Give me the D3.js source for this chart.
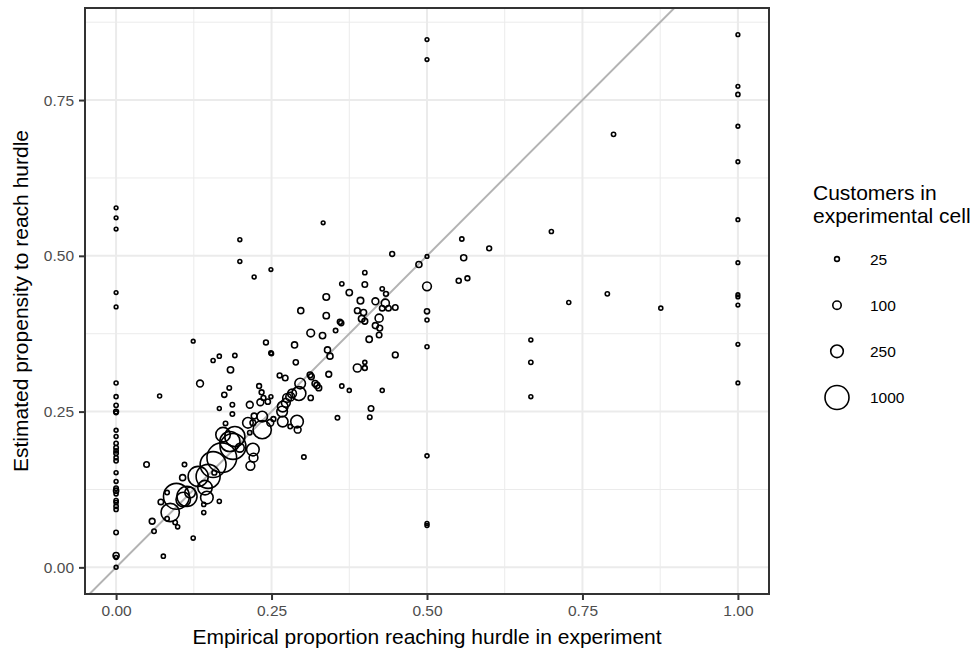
<!DOCTYPE html>
<html>
<head>
<meta charset="utf-8">
<script src="https://cdn.jsdelivr.net/npm/d3@7"></script>
<style>
  body { margin: 0; background: #fff; }
  svg text { font-family: "Liberation Sans", Arial, sans-serif; }
</style>
</head>
<body>
<svg id="chart"></svg>
<script>
// Empirical proportion (x), estimated propensity (y), customers in cell (n)
const empirical = [
  // cells where nobody reached the hurdle
  0, 0, 0, 0, 0, 0, 0, 0, 0, 0, 0, 0, 0, 0, 0, 0, 0, 0, 0, 0, 0, 0, 0, 0, 0, 0, 0, 0, 0, 0, 0,
  // half
  0.5, 0.5, 0.5, 0.5, 0.5, 0.5, 0.5, 0.5, 0.5, 0.5,
  // everybody
  1, 1, 1, 1, 1, 1, 1, 1, 1, 1, 1, 1,
  // two thirds
  0.667, 0.667, 0.667,
  // other upper right
  0.8, 0.7, 0.79, 0.728, 0.876, 0.6, 0.556, 0.559, 0.551, 0.565, 0.487, 0.444, 0.449,
  // upper scatter
  0.333, 0.199, 0.199, 0.222, 0.249,
  0.4, 0.363, 0.4, 0.375, 0.428, 0.434, 0.338, 0.393, 0.417, 0.433, 0.428, 0.438, 0.449,
  0.297, 0.338, 0.388, 0.398, 0.395, 0.400, 0.423, 0.360, 0.362, 0.353, 0.417, 0.424,
  0.423, 0.407, 0.313, 0.332, 0.287, 0.340, 0.344, 0.250, 0.289, 0.400, 0.400, 0.388,
  0.263, 0.272, 0.312, 0.314, 0.342, 0.320, 0.323, 0.326, 0.363, 0.375, 0.428, 0.313,
  0.410, 0.408, 0.356, 0.302, 0.249,
  // middle cluster
  0.296, 0.294, 0.283, 0.280, 0.275, 0.273, 0.268, 0.267,
  0.135, 0.174, 0.182, 0.187, 0.166, 0.187, 0.176, 0.230, 0.234, 0.237, 0.244,
  0.215, 0.232, 0.222, 0.220, 0.215, 0.248, 0.253, 0.292, 0.280,
  0.124, 0.241, 0.249, 0.156, 0.166, 0.191, 0.184, 0.070,
  // large cells along the diagonal
  0.097, 0.114, 0.108, 0.119, 0.087, 0.143, 0.146, 0.148, 0.132, 0.156, 0.170, 0.188,
  0.183, 0.191, 0.172, 0.220, 0.221, 0.216, 0.235, 0.235, 0.212, 0.291, 0.268, 0.199,
  // small cells low left
  0.049, 0.110, 0.107, 0.058, 0.061, 0.076, 0.124, 0.082, 0.072, 0.082, 0.095, 0.099,
  0.141, 0.141, 0.166, 0.158
];
const estimated = [
  0.577, 0.561, 0.543, 0.441, 0.418, 0.296, 0.274, 0.260, 0.250, 0.248, 0.220, 0.210,
  0.199, 0.192, 0.187, 0.183, 0.176, 0.171, 0.152, 0.138, 0.127, 0.123, 0.118, 0.107,
  0.104, 0.098, 0.093, 0.056, 0.019, 0.016, 0.0,
  0.847, 0.815, 0.499, 0.451, 0.411, 0.397, 0.354, 0.179, 0.0705, 0.067,
  0.855, 0.772, 0.759, 0.708, 0.651, 0.558, 0.489, 0.4375, 0.434, 0.421, 0.358, 0.296,
  0.365, 0.329, 0.274,
  0.695, 0.539, 0.439, 0.425, 0.416, 0.512, 0.527, 0.497, 0.460, 0.464, 0.486, 0.503, 0.341,
  0.553, 0.526, 0.491, 0.466, 0.478,
  0.473, 0.455, 0.454, 0.441, 0.447, 0.439, 0.434, 0.428, 0.427, 0.424, 0.416, 0.416, 0.417,
  0.412, 0.404, 0.412, 0.409, 0.399, 0.395, 0.400, 0.394, 0.392, 0.380, 0.388, 0.384,
  0.373, 0.366, 0.376, 0.372, 0.357, 0.349, 0.339, 0.343, 0.329, 0.329, 0.320, 0.320,
  0.308, 0.304, 0.309, 0.306, 0.310, 0.295, 0.292, 0.288, 0.291, 0.284, 0.284, 0.272,
  0.255, 0.241, 0.240, 0.177, 0.274,
  0.295, 0.279, 0.279, 0.274, 0.272, 0.264, 0.258, 0.250,
  0.295, 0.277, 0.288, 0.261, 0.255, 0.246, 0.231, 0.291, 0.281, 0.272, 0.266,
  0.261, 0.265, 0.243, 0.232, 0.216, 0.232, 0.238, 0.221, 0.226,
  0.363, 0.361, 0.344, 0.332, 0.339, 0.340, 0.317, 0.275,
  0.114, 0.114, 0.109, 0.120, 0.088, 0.128, 0.112, 0.146, 0.146, 0.165, 0.176, 0.194,
  0.202, 0.210, 0.213, 0.189, 0.176, 0.163, 0.221, 0.242, 0.232, 0.234, 0.234, 0.192,
  0.165, 0.165, 0.144, 0.074, 0.058, 0.018, 0.047, 0.120, 0.105, 0.078, 0.072, 0.065,
  0.101, 0.088, 0.106, 0.152
];
const customers = [
  12, 12, 12, 12, 12, 15, 15, 18, 25, 14, 14, 14, 18, 20, 18, 20, 16, 18, 14, 14, 20, 30,
  16, 18, 16, 18, 16, 20, 45, 14, 14,
  12, 12, 12, 110, 30, 15, 15, 15, 14, 14,
  12, 12, 16, 12, 12, 12, 12, 12, 12, 12, 12, 12,
  14, 18, 14,
  18, 16, 18, 15, 15, 25, 18, 45, 28, 25, 45, 25, 40,
  12, 14, 14, 14, 12,
  18, 18, 35, 50, 18, 25, 55, 55, 60, 90, 35, 35, 35,
  45, 50, 40, 45, 55, 40, 90, 30, 30, 20, 45, 40,
  35, 50, 80, 50, 45, 45, 45, 15, 30, 16, 25, 90,
  25, 35, 40, 40, 40, 45, 45, 40, 18, 15, 15, 30,
  35, 20, 20, 20, 14,
  170, 310, 110, 110, 110, 110, 170, 170,
  60, 30, 20, 20, 14, 20, 20, 25, 25, 25, 30,
  60, 60, 40, 40, 20, 60, 25, 60, 20,
  12, 25, 18, 16, 16, 18, 50, 15,
  1170, 690, 340, 170, 560, 340, 250, 1000, 690, 1170, 1560, 1170,
  690, 690, 340, 250, 110, 110, 560, 170, 170, 250, 170, 110,
  35, 20, 45, 40, 20, 16, 16, 20, 35, 20, 20, 16,
  16, 16, 16, 25
];

const axisTicks = [0, 0.25, 0.5, 0.75, 1];
const minorTicks = [0.125, 0.375, 0.625, 0.875];
const legendSizes = [25, 100, 250, 1000];

const data = empirical.map((x, i) => ({ x: x, y: estimated[i], n: customers[i] }));

const W = 979, H = 655;
const panel = { left: 85, right: 769, top: 8, bottom: 594 };

const svg = d3.select("#chart")
    .attr("width", W)
    .attr("height", H);

svg.append("rect").attr("width", W).attr("height", H).attr("fill", "#fff");

// scales, with ggplot's 5% expansion
const yMax = d3.max(estimated);
const xScale = d3.scaleLinear()
    .domain([-0.05, 1.05])
    .range([panel.left, panel.right]);
const yScale = d3.scaleLinear()
    .domain([-0.05 * yMax, 1.05 * yMax])
    .range([panel.bottom, panel.top]);
// area-proportional size, small offset so the tiny cells stay visible
const rScale = d3.scaleSqrt()
    .domain([0, 1000])
    .range([0, 11.4]);
const radius = n => 0.6 + rScale(n);

// grid
const grid = svg.append("g");
grid.selectAll(".minor-x").data(minorTicks).enter().append("line")
    .attr("x1", d => xScale(d)).attr("x2", d => xScale(d))
    .attr("y1", panel.top).attr("y2", panel.bottom)
    .attr("stroke", "#ebebeb").attr("stroke-width", 1);
grid.selectAll(".minor-y").data(minorTicks.filter(d => yScale(d) > panel.top)).enter().append("line")
    .attr("y1", d => yScale(d)).attr("y2", d => yScale(d))
    .attr("x1", panel.left).attr("x2", panel.right)
    .attr("stroke", "#ebebeb").attr("stroke-width", 1);
grid.selectAll(".major-x").data(axisTicks).enter().append("line")
    .attr("x1", d => xScale(d)).attr("x2", d => xScale(d))
    .attr("y1", panel.top).attr("y2", panel.bottom)
    .attr("stroke", "#ebebeb").attr("stroke-width", 2);
grid.selectAll(".major-y").data(axisTicks.filter(d => yScale(d) > panel.top)).enter().append("line")
    .attr("y1", d => yScale(d)).attr("y2", d => yScale(d))
    .attr("x1", panel.left).attr("x2", panel.right)
    .attr("stroke", "#ebebeb").attr("stroke-width", 2);

// clip for the diagonal
svg.append("clipPath").attr("id", "panel-clip")
    .append("rect")
    .attr("x", panel.left).attr("y", panel.top)
    .attr("width", panel.right - panel.left).attr("height", panel.bottom - panel.top);

// y = x reference line
const diag = d3.line().x(d => xScale(d)).y(d => yScale(d));
svg.append("path")
    .datum([-0.1, 1.1])
    .attr("d", diag)
    .attr("clip-path", "url(#panel-clip)")
    .attr("stroke", "#b3b3b3")
    .attr("stroke-width", 2)
    .attr("fill", "none");

// points
svg.append("g")
    .attr("clip-path", "url(#panel-clip)")
    .selectAll("circle")
    .data(data)
    .enter()
    .append("circle")
    .attr("cx", d => xScale(d.x))
    .attr("cy", d => yScale(d.y))
    .attr("r", d => radius(d.n))
    .attr("fill", "none")
    .attr("stroke", "#000")
    .attr("stroke-width", 1.6);

// panel border
svg.append("rect")
    .attr("x", panel.left).attr("y", panel.top)
    .attr("width", panel.right - panel.left).attr("height", panel.bottom - panel.top)
    .attr("fill", "none").attr("stroke", "#333").attr("stroke-width", 2);

// axes
const fmt = d3.format(".2f");
const xAxis = svg.append("g")
    .attr("transform", "translate(0," + panel.bottom + ")")
    .call(d3.axisBottom(xScale).tickValues(axisTicks).tickFormat(fmt).tickSize(6).tickPadding(5));
const yAxis = svg.append("g")
    .attr("transform", "translate(" + panel.left + ",0)")
    .call(d3.axisLeft(yScale).tickValues(axisTicks.filter(d => d <= yMax)).tickFormat(fmt).tickSize(6).tickPadding(5));
[xAxis, yAxis].forEach(ax => {
    ax.select(".domain").remove();
    ax.selectAll(".tick line").attr("stroke", "#333").attr("stroke-width", 2);
    ax.selectAll(".tick text").attr("fill", "#4d4d4d").style("font-size", "15.5px");
});

// axis titles
svg.append("text")
    .attr("x", (panel.left + panel.right) / 2)
    .attr("y", 644)
    .attr("text-anchor", "middle")
    .style("font-size", "21px")
    .text("Empirical proportion reaching hurdle in experiment");

svg.append("text")
    .attr("transform", "translate(28," + ((panel.top + panel.bottom) / 2) + ") rotate(-90)")
    .attr("text-anchor", "middle")
    .style("font-size", "21px")
    .text("Estimated propensity to reach hurdle");

// legend
const legend = svg.append("g");
legend.append("text").attr("x", 813).attr("y", 200).style("font-size", "21px").text("Customers in");
legend.append("text").attr("x", 813).attr("y", 223).style("font-size", "21px").text("experimental cell");

const keyY = d3.scalePoint().domain(legendSizes).range([259, 397.5]);
legend.selectAll(".key").data(legendSizes).enter().append("circle")
    .attr("cx", 837)
    .attr("cy", d => keyY(d))
    .attr("r", d => radius(d))
    .attr("fill", "none")
    .attr("stroke", "#000")
    .attr("stroke-width", 1.6);
legend.selectAll(".key-label").data(legendSizes).enter().append("text")
    .attr("x", 870)
    .attr("y", d => keyY(d) + 5.8)
    .style("font-size", "15.5px")
    .attr("fill", "#000")
    .text(d => d);
</script>
</body>
</html>
